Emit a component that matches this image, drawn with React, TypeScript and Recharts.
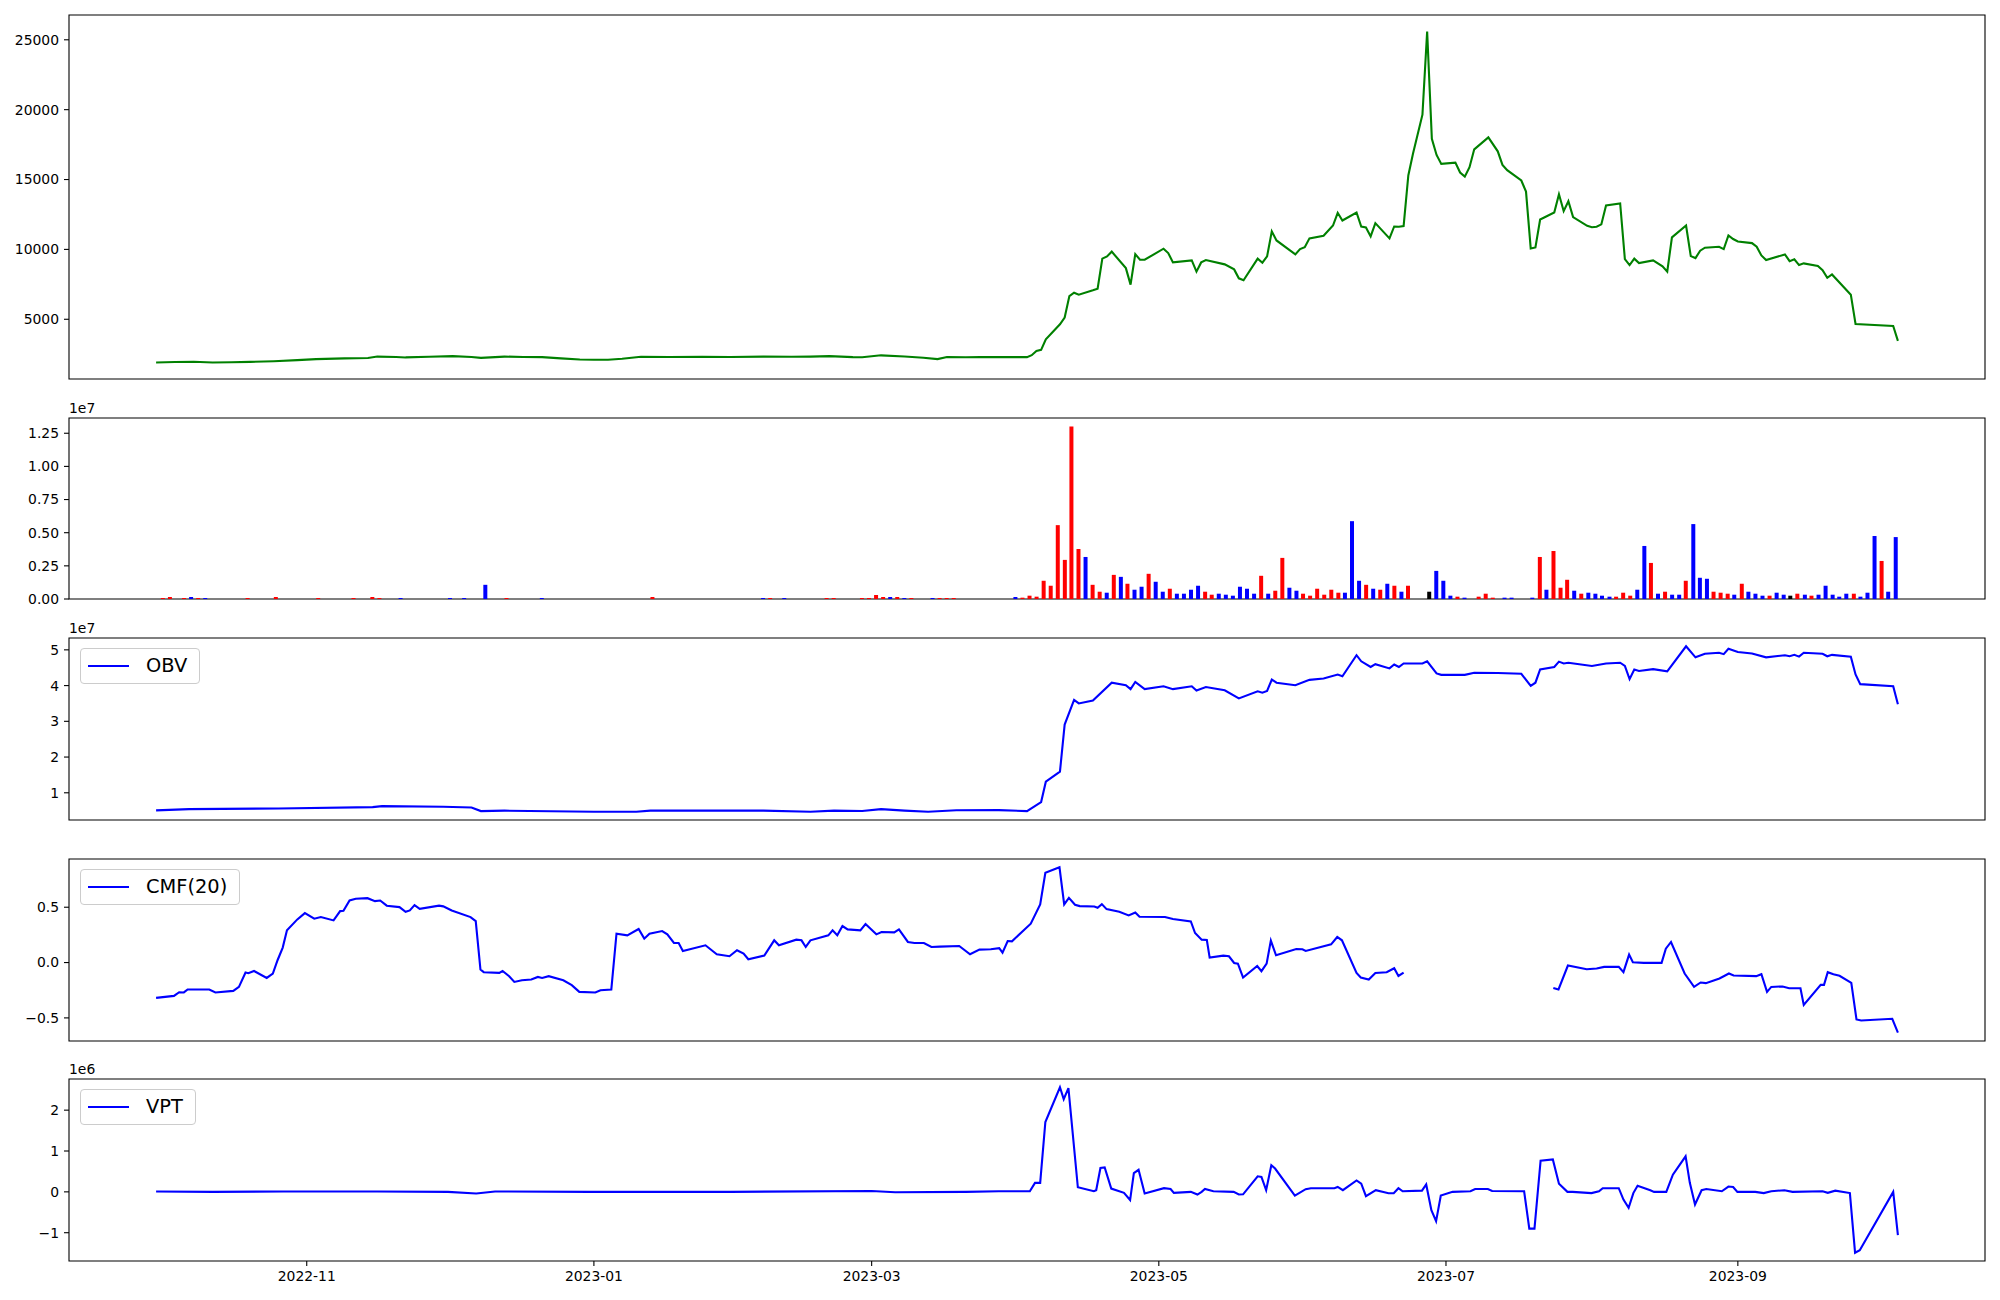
import { ComposedChart, Line, Bar, Cell, XAxis, YAxis, ReferenceArea } from 'recharts';

// day offsets are counted from 2022-11-01
const BASE = Date.UTC(2022, 10, 1);
const DAY = 86400000;

const tickMonths = ['2022-11', '2023-01', '2023-03', '2023-05', '2023-07', '2023-09'];

const priceDays = [
  -32, -28, -24, -20, -16, -12, -7, -2, 2, 8, 13, 15, 19, 21, 26, 31, 35, 37, 42, 46,
  50, 54, 58, 61, 64, 67, 71, 77, 84, 90, 97, 103, 107, 111, 116, 118, 122, 127, 131, 134,
  136, 140, 143, 147, 153, 154, 155, 156, 157, 160, 161, 162, 163, 164, 167, 168, 169, 170, 171, 174,
  175, 176, 177, 178, 182, 183, 184, 188, 189, 190, 191, 195, 197, 198, 199, 202, 203, 204, 205, 206,
  210, 211, 212, 213, 216, 218, 219, 220, 223, 224, 225, 226, 227, 230, 231, 232, 233, 234, 235, 237,
  238, 239, 240, 241, 244, 245, 246, 247, 248, 251, 253, 254, 255, 258, 259, 260, 261, 262, 265, 266,
  267, 268, 269, 272, 273, 274, 275, 276, 279, 280, 281, 282, 283, 286, 288, 289, 290, 293, 294, 295,
  296, 297, 300, 301, 302, 303, 304, 307, 308, 309, 310, 314, 315, 316, 317, 318, 321, 322, 323, 324,
  328, 329, 337, 338,
];
const priceValues = [
  1910, 1940, 1960, 1910, 1920, 1950, 2000, 2080, 2150, 2200, 2230, 2330, 2300, 2270, 2320, 2360, 2300, 2240, 2330, 2300,
  2290, 2200, 2120, 2100, 2100, 2180, 2320, 2300, 2310, 2300, 2330, 2320, 2330, 2360, 2290, 2280, 2420, 2340, 2250, 2150,
  2300, 2280, 2290, 2290, 2290, 2430, 2740, 2810, 3570, 4640, 5120, 6660, 6900, 6760, 7070, 7190, 9340, 9500, 9840, 8660,
  7480, 9660, 9260, 9260, 10050, 9740, 9070, 9210, 8410, 9070, 9240, 8930, 8570, 7930, 7790, 9340, 9050, 9500, 11290, 10640,
  9640, 10020, 10160, 10790, 10980, 11710, 12620, 12070, 12640, 11640, 11570, 10930, 11880, 10790, 11640, 11620, 11670, 15290, 16860, 19640,
  25590, 17910, 16760, 16120, 16210, 15500, 15210, 15880, 17160, 18020, 17020, 16050, 15670, 14930, 14140, 10070, 10140, 12140, 12640, 13950,
  12740, 13450, 12310, 11690, 11590, 11620, 11790, 13140, 13290, 9310, 8880, 9340, 9020, 9210, 8790, 8410, 10860, 11710, 9520, 9380,
  9910, 10120, 10190, 10020, 11000, 10740, 10570, 10450, 10190, 9570, 9240, 9640, 9160, 9290, 8880, 9000, 8810, 8520, 7970, 8210,
  6760, 4660, 4520, 3450,
];

const volumeDays = [
  -30.5, -29, -26, -24.5, -23, -21.5, -12.5, -6.5, 2.5, 10, 14, 15.5, 20, 30.5, 33.5, 38, 42.5, 50, 73.5, 97,
  98.5, 101.5, 110.5, 112, 118, 119.5, 121, 122.5, 124, 125.5, 127, 128.5, 133, 134.5, 136, 137.5,
  150.6, 152.1, 153.6, 155.1, 156.6, 158.1, 159.6, 161.1, 162.5, 164, 165.5, 167, 168.5, 170, 171.5, 173, 174.4, 175.9, 177.4, 178.9,
  180.4, 181.9, 183.4, 184.9, 186.4, 187.9, 189.4, 190.9, 192.3, 193.8, 195.3, 196.8, 198.3, 199.8, 201.3, 202.8, 204.3, 205.8, 207.3, 208.8,
  210.3, 211.7, 213.2, 214.7, 216.2, 217.7, 219.2, 220.6, 222.1, 223.6, 225.1, 226.6, 228.1, 229.6, 231.1, 232.6, 234,
  238.5, 240, 241.5, 243, 244.5, 246, 249, 250.5, 252,
  254.5, 256, 260.4, 262, 263.4, 264.9, 266.4, 267.8, 269.3, 270.8, 272.3, 273.8, 275.2, 276.8, 278.2, 279.7, 281.2, 282.7, 284.2, 285.6,
  287.1, 288.6, 290.1, 291.6, 293, 294.6, 296, 297.5, 298.9, 300.4, 301.9, 303.3, 304.9, 306.3, 307.8, 309.3, 310.8, 312.3, 313.8, 315.2,
  316.7, 318.3, 319.7, 321.2, 322.7, 324.2, 325.6, 327.1, 328.7, 330.1, 331.6, 333.1, 334.6, 336, 337.6,
];
// volume in millions
const volumeM = [
  0.075, 0.15, 0.075, 0.15, 0.075, 0.075, 0.075, 0.15, 0.075, 0.075, 0.15, 0.075, 0.075, 0.075, 0.075, 1.07, 0.075, 0.075, 0.15, 0.075,
  0.075, 0.075, 0.075, 0.075, 0.075, 0.075, 0.3, 0.15, 0.15, 0.15, 0.075, 0.075, 0.075, 0.075, 0.075, 0.075,
  0.15, 0.1, 0.25, 0.175, 1.375, 1.0, 5.57, 2.95, 13.0, 3.77, 3.17, 1.07, 0.55, 0.475, 1.82, 1.67, 1.15, 0.7, 0.925, 1.9,
  1.3, 0.55, 0.775, 0.4, 0.4, 0.7, 1.0, 0.55, 0.325, 0.4, 0.325, 0.25, 0.925, 0.775, 0.4, 1.75, 0.4, 0.625, 3.1, 0.85,
  0.625, 0.4, 0.25, 0.775, 0.325, 0.7, 0.475, 0.475, 5.87, 1.375, 1.07, 0.775, 0.7, 1.15, 1.0, 0.55, 1.0,
  0.55, 2.12, 1.375, 0.25, 0.175, 0.1, 0.175, 0.4, 0.1,
  0.1, 0.1, 0.1, 3.17, 0.7, 3.62, 0.85, 1.45, 0.625, 0.4, 0.475, 0.4, 0.25, 0.175, 0.175, 0.475, 0.25, 0.7, 4.0, 2.72,
  0.4, 0.55, 0.325, 0.325, 1.375, 5.65, 1.6, 1.525, 0.55, 0.475, 0.4, 0.325, 1.15, 0.55, 0.4, 0.25, 0.25, 0.475, 0.325, 0.25,
  0.4, 0.325, 0.25, 0.325, 1.0, 0.325, 0.175, 0.4, 0.4, 0.175, 0.475, 4.75, 2.87, 0.55, 4.67,
];
// 1 = close up, -1 = close down, 0 = unchanged
const volumeDir = [
  1, 1, 1, -1, 1, -1, 1, 1, 1, 1, 1, 1, -1, -1, -1, -1, 1, -1, 1, -1,
  1, -1, 1, 1, 1, 1, 1, 1, -1, 1, -1, 1, -1, 1, 1, 1,
  -1, 1, 1, 1, 1, 1, 1, 1, 1, 1, -1, 1, 1, -1, 1, -1, 1, -1, -1, 1,
  -1, -1, 1, -1, -1, -1, -1, 1, 1, -1, -1, -1, -1, -1, -1, 1, -1, 1, 1, -1,
  -1, 1, 1, 1, 1, 1, 1, -1, -1, -1, 1, -1, 1, -1, 1, -1, 1,
  0, -1, -1, -1, 1, -1, 1, 1, 1,
  -1, -1, -1, 1, -1, 1, 1, 1, -1, 1, -1, -1, -1, -1, 1, 1, 1, -1, -1, 1,
  -1, 1, -1, -1, 1, -1, -1, -1, 1, 1, 1, -1, 1, -1, -1, -1, 1, -1, -1, 0,
  1, -1, 1, -1, -1, -1, -1, -1, 1, -1, -1, -1, 1, -1, -1,
];

const obvDays = [
  -32, -25, -6, 14, 16, 29, 35, 37, 42, 61, 70, 73, 97, 107, 112, 118, 122, 127, 132, 138,
  147, 153, 156, 157, 160, 161, 163, 164, 167, 171, 174, 175, 176, 178, 182, 184, 188, 189, 191, 195,
  198, 202, 203, 204, 205, 206, 210, 213, 216, 219, 220, 223, 224, 226, 227, 230, 231, 232, 233, 237,
  238, 240, 241, 246, 248, 253, 258, 260, 261, 262, 265, 266, 267, 268, 273, 276, 279, 280, 281, 282,
  283, 286, 289, 293, 295, 297, 300, 301, 302, 304, 307, 310, 314, 315, 316, 317, 318, 322, 323, 324,
  328, 329, 330, 337, 338,
];
// OBV in units of 1e7
const obvE7 = [
  0.508, 0.544, 0.56, 0.6, 0.627, 0.61, 0.59, 0.488, 0.5, 0.47, 0.47, 0.5, 0.5, 0.47, 0.5, 0.49, 0.544, 0.5, 0.47, 0.51,
  0.516, 0.488, 0.74, 1.31, 1.59, 2.91, 3.6, 3.5, 3.58, 4.08, 4.01, 3.9, 4.1, 3.9, 3.98, 3.9, 3.98, 3.86, 3.96, 3.87,
  3.64, 3.84, 3.8, 3.85, 4.17, 4.08, 4.01, 4.16, 4.2, 4.31, 4.26, 4.85, 4.68, 4.52, 4.6, 4.48, 4.59, 4.52, 4.62, 4.62,
  4.68, 4.34, 4.3, 4.3, 4.36, 4.35, 4.33, 3.99, 4.08, 4.45, 4.52, 4.67, 4.62, 4.64, 4.55, 4.62, 4.64, 4.55, 4.18, 4.45,
  4.41, 4.46, 4.4, 5.1, 4.79, 4.89, 4.92, 4.88, 5.03, 4.94, 4.9, 4.79, 4.85, 4.82, 4.86, 4.81, 4.92, 4.89, 4.82, 4.86,
  4.81, 4.31, 4.04, 3.98, 3.48,
];

// CMF(20) before the gap
const cmfDaysA = [
  -32, -28.2, -27.1, -26.1, -25.3, -20.7, -19.4, -15.6, -14.4, -13, -12.4, -11.2, -8.5, -7.2, -6.2, -5.1, -4.2, -2, -0.4, 1.6,
  3, 5.7, 7.1, 7.8, 9.1, 10.4, 12.9, 14.5, 15.6, 17, 19.7, 21, 21.9, 22.9, 24, 28.1, 29, 30.8, 34.8, 35.9,
  36.9, 37.6, 40.9, 41.6, 43, 44.1, 45.7, 47.7, 49.1, 50, 51.4, 54.5, 56.3, 57.9, 61.3, 62.4, 64.7, 65.8, 68.1, 70.5,
  71.7, 72.8, 75.5, 76.6, 78, 79, 79.9, 84.7, 87.1, 89.8, 91.4, 92.8, 93.8, 97.2, 99.3, 100.3, 104, 105.1, 106, 107,
  110.8, 111.7, 112.7, 113.8, 114.9, 117.6, 118.7, 121, 122.1, 124.8, 125.8, 127.7, 129.1, 131.1, 132.7, 134.5, 138.6, 140.9, 142.9, 145.3,
  147.1, 147.8, 148.9, 149.8, 153.8, 155.8, 156.9, 159.9, 160.9, 161.9, 163.2, 164.2, 167.3, 168, 168.9, 169.9, 172.6, 174.6, 176, 176.9,
  182.3, 184, 187.8, 188.7, 190.1, 191.2, 191.8, 194.7, 195.9, 197, 197.8, 198.9, 201.9, 202.8, 203.9, 204.8, 205.9, 210.2, 211.5, 212.2,
  217.6, 218.9, 219.9, 223, 223.9, 225.6, 227, 229.4, 231, 231.9, 233,
];
const cmfValuesA = [
  -0.319, -0.301, -0.268, -0.27, -0.243, -0.243, -0.27, -0.256, -0.22, -0.09, -0.096, -0.076, -0.139, -0.099, 0.021, 0.135, 0.291, 0.39, 0.447, 0.396,
  0.411, 0.381, 0.465, 0.468, 0.561, 0.577, 0.582, 0.555, 0.561, 0.514, 0.501, 0.459, 0.471, 0.519, 0.486, 0.514, 0.508, 0.471, 0.411, 0.375,
  -0.063, -0.087, -0.093, -0.076, -0.123, -0.175, -0.16, -0.153, -0.13, -0.139, -0.123, -0.16, -0.204, -0.265, -0.27, -0.25, -0.243, 0.261, 0.246, 0.303,
  0.216, 0.261, 0.285, 0.255, 0.177, 0.177, 0.105, 0.156, 0.075, 0.057, 0.111, 0.081, 0.03, 0.063, 0.201, 0.156, 0.207, 0.201, 0.141, 0.201,
  0.246, 0.291, 0.246, 0.33, 0.3, 0.291, 0.348, 0.255, 0.276, 0.273, 0.3, 0.186, 0.177, 0.177, 0.141, 0.144, 0.15, 0.075, 0.117, 0.12,
  0.13, 0.09, 0.195, 0.192, 0.351, 0.525, 0.811, 0.861, 0.525, 0.585, 0.522, 0.51, 0.507, 0.495, 0.528, 0.483, 0.459, 0.426, 0.453, 0.414,
  0.411, 0.393, 0.372, 0.267, 0.207, 0.204, 0.045, 0.063, 0.057, -0.004, -0.01, -0.135, -0.031, -0.078, -0.01, 0.198, 0.066, 0.123, 0.12, 0.105,
  0.165, 0.231, 0.201, -0.094, -0.135, -0.153, -0.094, -0.087, -0.051, -0.121, -0.09,
];
// CMF(20) after the gap
const cmfDaysB = [
  264.8, 265.9, 267.9, 271.9, 274, 275.6, 278.7, 279.7, 280.9, 281.7, 284, 287.8, 288.7, 289.8, 292.7, 294.7, 296.1, 297.2, 300.1, 302.1,
  303.1, 307.9, 309, 310.2, 311.1, 313.5, 314.9, 317.3, 318, 321.6, 322.3, 323.1, 324.3, 325.6, 328.1, 329.2, 330.2, 336.8, 338,
];
const cmfValuesB = [
  -0.229, -0.243, -0.027, -0.06, -0.054, -0.039, -0.039, -0.087, 0.072, 0.003, -0.003, -0.003, 0.126, 0.186, -0.099, -0.22, -0.18, -0.186, -0.144, -0.099,
  -0.117, -0.123, -0.105, -0.265, -0.22, -0.216, -0.232, -0.232, -0.382, -0.202, -0.202, -0.087, -0.105, -0.12, -0.183, -0.514, -0.523, -0.508, -0.634,
];

const vptDays = [
  -32, -20, -5, 15, 30, 36, 40, 60, 90, 120, 125, 140, 147, 153.6, 154.7, 155.8, 156.9, 160, 160.8, 161.8,
  163.8, 167.2, 167.7, 168.6, 169.5, 170.9, 173.6, 174.9, 175.7, 176.7, 178, 182.1, 183.5, 184.2, 187.8, 189.2, 190.1, 190.8, 192.6, 196.9,
  198, 198.9, 202, 202.8, 203.8, 204.9, 205.7, 209.9, 212.2, 213.3, 218.3, 219, 220.1, 223, 224, 225, 227.1, 229.8, 230.9, 231.9,
  232.8, 236.9, 237.8, 238.9, 239.9, 240.9, 243.4, 247.2, 248.2, 250.9, 251.8, 258.6, 259.7, 260.8, 262.1, 264.7, 266, 267.8, 268.9, 272.9,
  274.5, 275.3, 278.7, 279.7, 280.8, 281.8, 282.7, 285.4, 286.2, 288.8, 290.2, 292.9, 293.8, 294.9, 296.3, 297.3, 300.6, 302, 303, 303.9,
  307.7, 309.5, 311.1, 313.9, 315.6, 322, 323.1, 324.7, 327.8, 328.9, 329.9, 337, 338,
];
// VPT in units of 1e6
const vptE6 = [
  0.01, 0, 0.01, 0.01, 0, -0.04, 0.01, 0, 0, 0.02, -0.01, 0, 0.015, 0.015, 0.22, 0.22, 1.71, 2.56, 2.27, 2.54,
  0.112, 0.015, 0.04, 0.585, 0.6, 0.08, -0.024, -0.2, 0.46, 0.54, -0.04, 0.09, 0.07, -0.024, 0, -0.066, 0, 0.07, 0.015, 0,
  -0.066, -0.06, 0.38, 0.365, 0.04, 0.65, 0.57, -0.09, 0.065, 0.09, 0.09, 0.12, 0.04, 0.28, 0.2, -0.107, 0.04, -0.033, -0.033, 0.09,
  0.015, 0.03, 0.18, -0.45, -0.717, -0.09, 0, 0.015, 0.07, 0.07, 0.02, 0.015, -0.9, -0.9, 0.763, 0.795, 0.2, 0, 0, -0.03,
  0.015, 0.09, 0.09, -0.19, -0.39, -0.03, 0.15, 0.04, 0, 0, 0.42, 0.87, 0.22, -0.31, 0.04, 0.07, 0.015, 0.13, 0.12, 0,
  0, -0.03, 0.015, 0.04, 0, 0.015, -0.024, 0.03, -0.03, -1.49, -1.43, 0, -1.06,
];

const zip = (days: number[], vals: number[], k = 1) => days.map((day, i) => ({ day, v: vals[i] * k }));

const priceData = zip(priceDays, priceValues);
const volumeData = volumeDays.map((day, i) => ({ day, v: volumeM[i] * 1e6, dir: volumeDir[i] }));
const obvData = zip(obvDays, obvE7, 1e7);
const cmfDataA = zip(cmfDaysA, cmfValuesA);
const cmfDataB = zip(cmfDaysB, cmfValuesB);
const vptData = zip(vptDays, vptE6, 1e6);

// matplotlib-style 5% margins
const padRange = (vals: number[]) => {
  const lo = Math.min(...vals);
  const hi = Math.max(...vals);
  const r = hi - lo;
  return [lo - 0.05 * r, hi + 0.05 * r];
};

const xDomain = padRange([priceDays[0], priceDays[priceDays.length - 1]]);
const xTicks = tickMonths.map((m) => {
  const [y, mo] = m.split('-').map(Number);
  return (Date.UTC(y, mo - 1, 1) - BASE) / DAY;
});
const fmtMonth = (d: number) => {
  const dt = new Date(BASE + Math.round(d) * DAY);
  return `${dt.getUTCFullYear()}-${String(dt.getUTCMonth() + 1).padStart(2, '0')}`;
};
const minus = (s: string) => s.replace('-', '\u2212');

const FONT = 'DejaVu Sans';
const tickFont = { fontSize: 13.9, fill: '#000', fontFamily: FONT };
const tickLine = { stroke: '#000', strokeWidth: 1.1 };
const dirColor = (d: number) => (d > 0 ? '#ff0000' : d < 0 ? '#0000ff' : '#000000');

function Panel({ top, h, bottom = false, data, yDomain, yTicks, yFmt, children }: any) {
  const xh = bottom ? 40 : 8;
  return (
    <div style={{ position: 'absolute', left: 0, top: top - 10 }}>
      <ComposedChart width={2000} height={10 + h + xh} data={data} margin={{ top: 10, right: 15, bottom: 0, left: 0 }}>
        <XAxis
          type="number"
          dataKey="day"
          domain={xDomain}
          allowDataOverflow
          ticks={xTicks}
          interval={0}
          tickFormatter={fmtMonth}
          height={xh}
          axisLine={false}
          tickLine={tickLine}
          tickSize={5}
          tickMargin={5}
          tick={bottom ? tickFont : false}
        />
        <YAxis
          type="number"
          domain={yDomain}
          allowDataOverflow
          ticks={yTicks}
          interval={0}
          tickFormatter={yFmt}
          width={69}
          axisLine={false}
          tickLine={tickLine}
          tickSize={5}
          tickMargin={5}
          tick={tickFont}
        />
        {children}
        <ReferenceArea
          x1={xDomain[0]}
          x2={xDomain[1]}
          y1={yDomain[0]}
          y2={yDomain[1]}
          fill="none"
          stroke="#000"
          strokeWidth={1.1}
          ifOverflow="visible"
        />
      </ComposedChart>
    </div>
  );
}

function LegendBox({ top, label }: { top: number; label: string }) {
  return (
    <div
      style={{
        position: 'absolute', left: 80, top, height: 36, boxSizing: 'border-box',
        border: '1px solid #cccccc', borderRadius: 4, background: 'rgba(255,255,255,0.8)',
        display: 'flex', alignItems: 'center', padding: '0 12px 0 7px',
        fontFamily: FONT, fontSize: 19.4, color: '#000', whiteSpace: 'nowrap',
      }}
    >
      <svg width={41} height={4}>
        <line x1={0} y1={2} x2={41} y2={2} stroke="#0000ff" strokeWidth={2.1} />
      </svg>
      <span style={{ marginLeft: 17, lineHeight: 1 }}>{label}</span>
    </div>
  );
}

function OffsetText({ baseline, text }: { baseline: number; text: string }) {
  return (
    <div style={{ position: 'absolute', left: 69, top: baseline - 12, fontFamily: FONT, fontSize: 13.9, lineHeight: '14px', color: '#000' }}>
      {text}
    </div>
  );
}

const line = (data: any[] | undefined, color: string, key?: string) => (
  <Line
    key={key}
    data={data}
    type="linear"
    dataKey="v"
    stroke={color}
    strokeWidth={2.1}
    dot={false}
    activeDot={false}
    isAnimationActive={false}
  />
);

export default function App() {
  const volMax = Math.max(...volumeM) * 1e6;
  return (
    <div style={{ position: 'absolute', left: 0, top: 0, width: 2000, height: 1300, background: '#fff', fontFamily: FONT }}>
      <Panel top={15} h={364} data={priceData} yDomain={padRange(priceValues)} yTicks={[5000, 10000, 15000, 20000, 25000]} yFmt={(v: number) => String(v)}>
        {line(undefined, '#008000')}
      </Panel>

      <Panel top={418} h={181} data={volumeData} yDomain={[0, volMax * 1.05]} yTicks={[0, 0.25e7, 0.5e7, 0.75e7, 1e7, 1.25e7]} yFmt={(v: number) => (v / 1e7).toFixed(2)}>
        <Bar dataKey="v" barSize={4} isAnimationActive={false}>
          {volumeData.map((d, i) => (
            <Cell key={`vol-${i}`} fill={dirColor(d.dir)} />
          ))}
        </Bar>
      </Panel>
      <OffsetText baseline={413} text="1e7" />

      <Panel top={638} h={182} data={obvData} yDomain={padRange(obvE7).map((v) => v * 1e7)} yTicks={[1e7, 2e7, 3e7, 4e7, 5e7]} yFmt={(v: number) => String(Math.round(v / 1e7))}>
        {line(undefined, '#0000ff')}
      </Panel>
      <OffsetText baseline={633} text="1e7" />
      <LegendBox top={648} label="OBV" />

      <Panel top={859} h={182} yDomain={padRange([...cmfValuesA, ...cmfValuesB])} yTicks={[-0.5, 0, 0.5]} yFmt={(v: number) => minus(v.toFixed(1))}>
        {line(cmfDataA, '#0000ff', 'cmf-a')}
        {line(cmfDataB, '#0000ff', 'cmf-b')}
      </Panel>
      <LegendBox top={869} label="CMF(20)" />

      <Panel top={1079} h={182} bottom data={vptData} yDomain={padRange(vptE6).map((v) => v * 1e6)} yTicks={[-1e6, 0, 1e6, 2e6]} yFmt={(v: number) => minus(String(Math.round(v / 1e6)))}>
        {line(undefined, '#0000ff')}
      </Panel>
      <OffsetText baseline={1074} text="1e6" />
      <LegendBox top={1089} label="VPT" />
    </div>
  );
}
